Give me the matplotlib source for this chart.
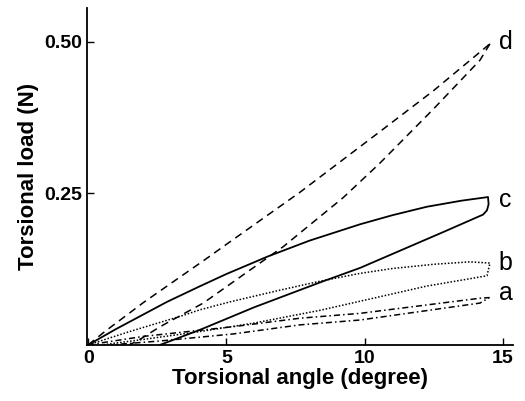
import matplotlib
matplotlib.use('Agg')
import matplotlib.pyplot as plt

plt.rcParams['font.family'] = ['Liberation Sans', 'DejaVu Sans']

# curve d (dashed): loading and unloading
d_load_x = [0, 0.6, 2.0, 4.2, 5.0, 7.66, 10.55, 12.5, 14.53]
d_load_y = [0, 0.022, 0.070, 0.140, 0.166, 0.252, 0.352, 0.420, 0.497]
d_unload_x = [14.53, 14.17, 12.5, 10.55, 9.22, 7.05, 5.96, 4.16, 2.6, 1.9, 1.5]
d_unload_y = [0.497, 0.470, 0.390, 0.300, 0.243, 0.162, 0.127, 0.069, 0.030, 0.010, 0.0]

# curve c (solid)
c_load_x = [0, 1.0, 2.85, 4.05, 5.0, 6.5, 8.0, 9.83, 11.0, 12.25, 13.5, 14.46]
c_load_y = [0, 0.026, 0.071, 0.097, 0.117, 0.146, 0.172, 0.199, 0.214, 0.228, 0.238, 0.244]
c_unload_x = [14.46, 14.48, 14.42, 14.28, 12.83, 9.83, 8.38, 6.0, 4.05, 2.6]
c_unload_y = [0.244, 0.232, 0.222, 0.215, 0.186, 0.127, 0.103, 0.062, 0.025, 0.0]

# curve b (dotted)
b_load_x = [0, 1.5, 3.32, 4.05, 5.13, 7.0, 8.38, 9.83, 11.0, 12.5, 13.8, 14.53]
b_load_y = [0, 0.022, 0.047, 0.058, 0.071, 0.091, 0.105, 0.118, 0.126, 0.133, 0.137, 0.135]
b_unload_x = [14.53, 14.42, 12.24, 9.83, 8.38, 6.0, 4.05, 2.0, 0.5]
b_unload_y = [0.135, 0.114, 0.097, 0.072, 0.057, 0.036, 0.022, 0.009, 0.0]

# curve a (dash-dot)
a_load_x = [0, 2.0, 5.24, 7.66, 9.83, 14.17, 14.5]
a_load_y = [0, 0.014, 0.030, 0.044, 0.052, 0.077, 0.078]
a_unload_x = [14.5, 14.17, 9.83, 7.66, 5.24, 2.5, 0.8]
a_unload_y = [0.078, 0.069, 0.041, 0.033, 0.018, 0.006, 0.0]

labels = ['d', 'c', 'b', 'a']
label_y = [0.500, 0.239, 0.135, 0.086]

fig = plt.figure(figsize=(5.25, 4.01), dpi=100)
ax = fig.add_axes([0.166, 0.14, 0.811, 0.84])

ax.plot(d_load_x, d_load_y, color='black', lw=1.1, dashes=(5, 3.5))
ax.plot(d_unload_x, d_unload_y, color='black', lw=1.1, dashes=(5, 3.5))
ax.plot(c_load_x + c_unload_x, c_load_y + c_unload_y, color='black', lw=1.3)
ax.plot(b_load_x + b_unload_x, b_load_y + b_unload_y, color='black', lw=1.1, linestyle=(0, (1, 1.2)))
ax.plot(a_load_x + a_unload_x, a_load_y + a_unload_y, color='black', lw=1.1,
        linestyle=(0, (4, 2, 1, 2)))

for lab, ly in zip(labels, label_y):
    ax.text(14.85, ly, lab, fontsize=18, va='center', ha='left')

ax.set_xlim(-0.04, 15.36)
ax.set_ylim(0, 0.556)
ax.set_xticks([0, 5, 10, 15])
ax.set_yticks([0.25, 0.50])
ax.set_yticklabels(['0.25', '0.50'])
ax.tick_params(direction='in', length=5, width=1, labelsize=14)
for t in ax.get_xticklabels() + ax.get_yticklabels():
    t.set_fontweight('bold')
ax.spines['top'].set_visible(False)
ax.spines['right'].set_visible(False)
ax.spines['left'].set_linewidth(1.3)
ax.spines['bottom'].set_linewidth(1.3)

ax.set_xlabel('Torsional angle (degree)', fontsize=16, fontweight='bold', labelpad=1)
ax.set_ylabel('Torsional load (N)', fontsize=16, fontweight='bold', labelpad=4)

fig.savefig('out.png', dpi=100)
